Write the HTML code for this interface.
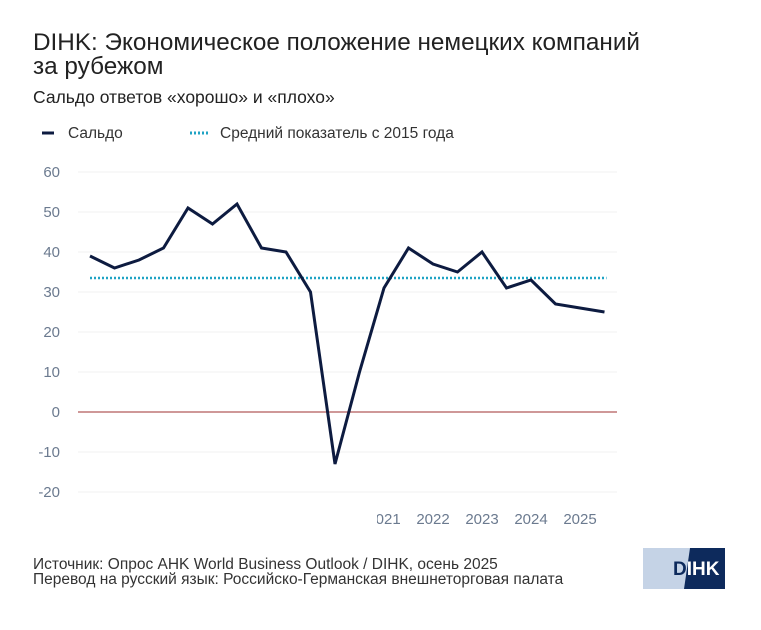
<!DOCTYPE html>
<html><head><meta charset="utf-8"><style>
body{margin:0;background:#fff;font-family:"Liberation Sans",sans-serif;}
</style></head><body>
<svg width="761" height="625" xmlns="http://www.w3.org/2000/svg">
<text x="33" y="50" font-size="24.3" fill="#222">DIHK: Экономическое положение немецких компаний</text>
<text x="33" y="74" font-size="24.3" fill="#222">за рубежом</text>
<text x="33" y="103" font-size="17.5" fill="#222">Сальдо ответов «хорошо» и «плохо»</text>
<g>
<line x1="42" y1="133" x2="54" y2="133" stroke="#0d1b40" stroke-width="3"/>
<text x="68" y="138" font-size="15.5" fill="#333">Сальдо</text>
<line x1="190" y1="133" x2="208" y2="133" stroke="#1fa3c4" stroke-width="3" stroke-dasharray="2,2"/>
<text x="220" y="138" font-size="15.5" fill="#333">Средний показатель с 2015 года</text>
</g>
<g id="grid"></g><g id="yt"></g><g id="xt"></g><g id="series"></g>
<clipPath id="xc"><rect x="377" y="500" width="300" height="40"/></clipPath>
<clipPath id="lc"><polygon points="690,548 725,548 725,589 684,589"/></clipPath>
<text x="33" y="569" font-size="15.5" fill="#333">Источник: Опрос AHK World Business Outlook / DIHK, осень 2025</text>
<text x="33" y="584" font-size="15.5" fill="#333">Перевод на русский язык: Российско-Германская внешнеторговая палата</text>
<g>
<rect x="643" y="548" width="82" height="41" fill="#c5d3e6"/>
<polygon points="690,548 725,548 725,589 684,589" fill="#0d2a5c"/>
<text x="673" y="575" font-size="19" font-weight="bold" fill="#0d2a5c">DIHK</text>
<text x="673" y="575" font-size="19" font-weight="bold" fill="#fff" clip-path="url(#lc)">DIHK</text>
</g>
</svg>
<script>
const values=[39,36,38,41,51,47,52,41,40,30,-13,10,31,41,37,35,40,31,33,27,26,25];
const average=[33.5];
const yTicks=[60,50,40,30,20,10,0,-10,-20];
const yearLabels=["2021","2022","2023","2024","2025"];
const yearIndex=[12,14,16,18,20];
const NS="http://www.w3.org/2000/svg";
const X=i=>90+i*24.5, Y=v=>412-v*4;
function mk(t,a,p){const e=document.createElementNS(NS,t);for(const k in a)e.setAttribute(k,a[k]);document.getElementById(p).appendChild(e);return e;}
yTicks.forEach(v=>{
 if(v!==0){const g=mk('line',{x1:78,x2:617,y1:Y(v),y2:Y(v),stroke:'#f1f1f1','stroke-width':1},'grid');
 
 }
 const t=mk('text',{x:60,y:Y(v)+5,'font-size':15,fill:'#6b7a8f','text-anchor':'end'},'yt');t.textContent=v;
 
 
});
yearLabels.forEach((s,k)=>{
 const t=mk('text',{x:X(yearIndex[k]),y:524,'font-size':15,fill:'#6b7a8f','text-anchor':'middle','clip-path':'url(#xc)'},'xt');t.textContent=s;
 
 
});
const z=mk('line',{x1:78,x2:617,y1:Y(0),y2:Y(0),stroke:'#b25a5a','stroke-width':1.3},'series');


const av=mk('line',{x1:X(0),x2:X(values.length-1)+2,y1:Y(average[0]),y2:Y(average[0]),stroke:'#1fa3c4','stroke-width':2.5,'stroke-dasharray':'2,2'},'series');


const pl=mk('polyline',{points:values.map((v,i)=>X(i)+','+Y(v)).join(' '),fill:'none',stroke:'#0d1b40','stroke-width':3,'stroke-linejoin':'miter'},'series');


</script>
</body></html>
